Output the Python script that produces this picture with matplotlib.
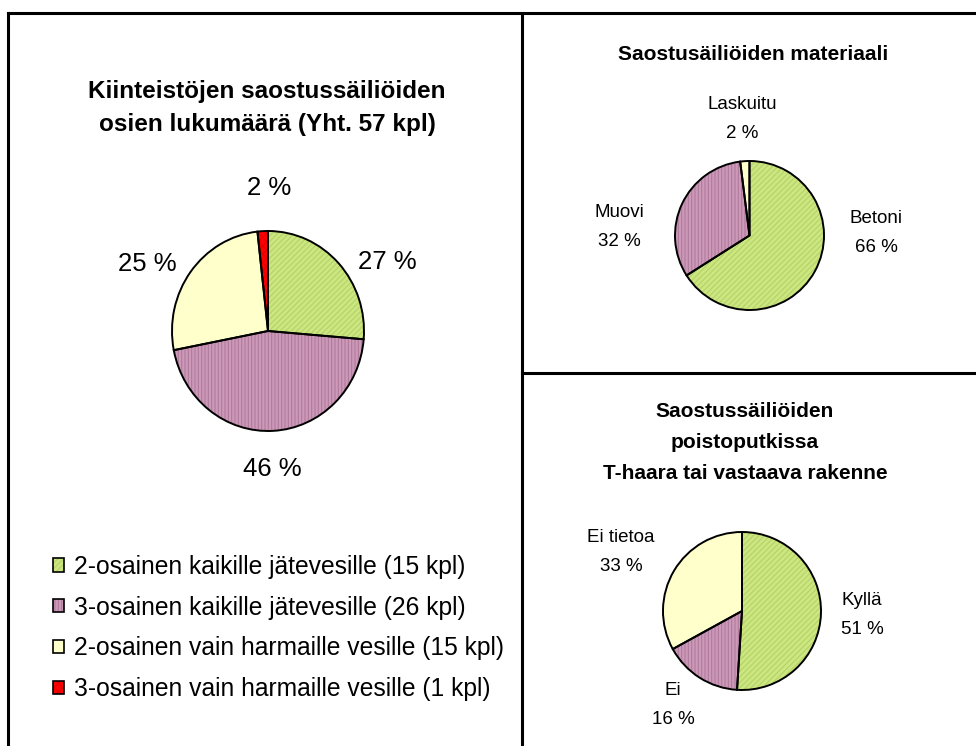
import matplotlib
matplotlib.use("Agg")
import matplotlib.pyplot as plt
from matplotlib.lines import Line2D
from matplotlib.patches import Patch
from matplotlib.legend_handler import HandlerTuple

plt.rcParams['font.family'] = ['Liberation Sans', 'DejaVu Sans']
plt.rcParams['hatch.linewidth'] = 0.8

# main chart: parts of septic tanks
parts_labels = ['2-osainen kaikille jätevesille (15 kpl)',
                '3-osainen kaikille jätevesille (26 kpl)',
                '2-osainen vain harmaille vesille (15 kpl)',
                '3-osainen vain harmaille vesille (1 kpl)']
parts_counts = [15, 26, 15, 1]
parts_pct = ['27 %', '46 %', '25 %', '2 %']

# material
mat_names = ['Betoni', 'Muovi', 'Laskuitu']
mat_pct = [66, 32, 2]

# T-branch
t_names = ['Kyllä', 'Ei', 'Ei tietoa']
t_pct = [51, 16, 33]

GREEN = '#CCE680'
PURPLE = '#CC99B8'
YELLOW = '#FFFFCC'
RED = '#FF0000'
fills = {GREEN: ('#B5D26A', '//////'), PURPLE: ('#B07A9C', '|||||'),
         YELLOW: (YELLOW, None), RED: ('#E00000', 'xxxx')}

W, H = 976, 746
fig = plt.figure(figsize=(W / 100, H / 100), dpi=100)


def fx(x):
    return x / W


def fy(y):
    return 1 - y / H


def pie_axes(cx, cy, rx, ry):
    ax = fig.add_axes([fx(cx - rx), fy(cy + ry), 2 * rx / W, 2 * ry / H])
    return ax


def draw_pie(ax, values, colors):
    wedges, _ = ax.pie(values, colors=colors, startangle=90, counterclock=False,
                       radius=1, wedgeprops=dict(linewidth=0))
    for w, c in zip(wedges, colors):
        hc, hatch = fills[c]
        if hatch:
            w.set_hatch(hatch)
            w.set_edgecolor(hc)
    ax.pie(values, colors=colors, startangle=90, counterclock=False, radius=1,
           wedgeprops=dict(fill=False, edgecolor='black', linewidth=1.4))
    ax.set_aspect('auto')
    ax.set_xlim(-1, 1)
    ax.set_ylim(-1, 1)
    ax.axis('off')
    return wedges


# frame lines
lw = 2.2
for (x0, y0, x1, y1) in [(7.5, 12.5, 976, 12.5), (7.5, 12.5, 7.5, 746),
                         (521.5, 12.5, 521.5, 746), (521.5, 373, 976, 373)]:
    fig.add_artist(Line2D([fx(x0), fx(x1)], [fy(y0), fy(y1)], color='black',
                          lw=lw, solid_capstyle='projecting'))

# main pie
ax1 = pie_axes(268, 331, 96, 100)
main_colors = [GREEN, PURPLE, YELLOW, RED]
draw_pie(ax1, parts_counts, main_colors)
fig.text(fx(267), fy(108), 'Kiinteistöjen saostussäiliöiden\nosien lukumäärä (Yht. 57 kpl)',
         ha='center', va='center', fontsize=17.5, fontweight='bold', linespacing=1.55)
for txt, (x, y) in zip(parts_pct, [(387, 262), (272, 469), (147, 264), (269, 188)]):
    fig.text(fx(x), fy(y), txt, ha='center', va='center', fontsize=18.5)

handles = []
for c in main_colors:
    hc, hatch = fills[c]
    handles.append((Patch(facecolor=c, edgecolor=hc, hatch=hatch, lw=0),
                    Patch(fill=False, edgecolor='black', lw=1.2)))
fig.legend(handles, parts_labels, handler_map={tuple: HandlerTuple(ndivide=1)},
           loc='upper left', bbox_to_anchor=(fx(43), fy(545)), frameon=False,
           borderaxespad=0, fontsize=17.7, handlelength=0.45, handleheight=0.45,
           handletextpad=0.4, labelspacing=0.68)

# material pie
ax2 = pie_axes(749.5, 235.5, 74.5, 74.5)
draw_pie(ax2, mat_pct, [GREEN, PURPLE, YELLOW])
fig.text(fx(753), fy(55), 'Saostusäiliöiden materiaali', ha='center', va='center',
         fontsize=15, fontweight='bold')
for n, p, (x, y) in zip(mat_names, mat_pct, [(876, 233), (619, 227), (742, 119)]):
    fig.text(fx(x), fy(y), f'{n}\n{p} %', ha='center', va='center', fontsize=13.5,
             linespacing=1.9)

# T-branch pie
ax3 = pie_axes(742, 611, 79, 79)
draw_pie(ax3, t_pct, [GREEN, PURPLE, YELLOW])
fig.text(fx(745), fy(443), 'Saostussäiliöiden\npoistoputkissa\nT-haara tai vastaava rakenne',
         ha='center', va='center', fontsize=15, fontweight='bold', linespacing=1.8)
for n, p, (x, y) in zip(t_names, t_pct, [(862, 615), (673, 705), (621, 552)]):
    fig.text(fx(x), fy(y), f'{n}\n{p} %', ha='center', va='center', fontsize=13.5,
             linespacing=1.9)

fig.savefig('out.png', dpi=100)
